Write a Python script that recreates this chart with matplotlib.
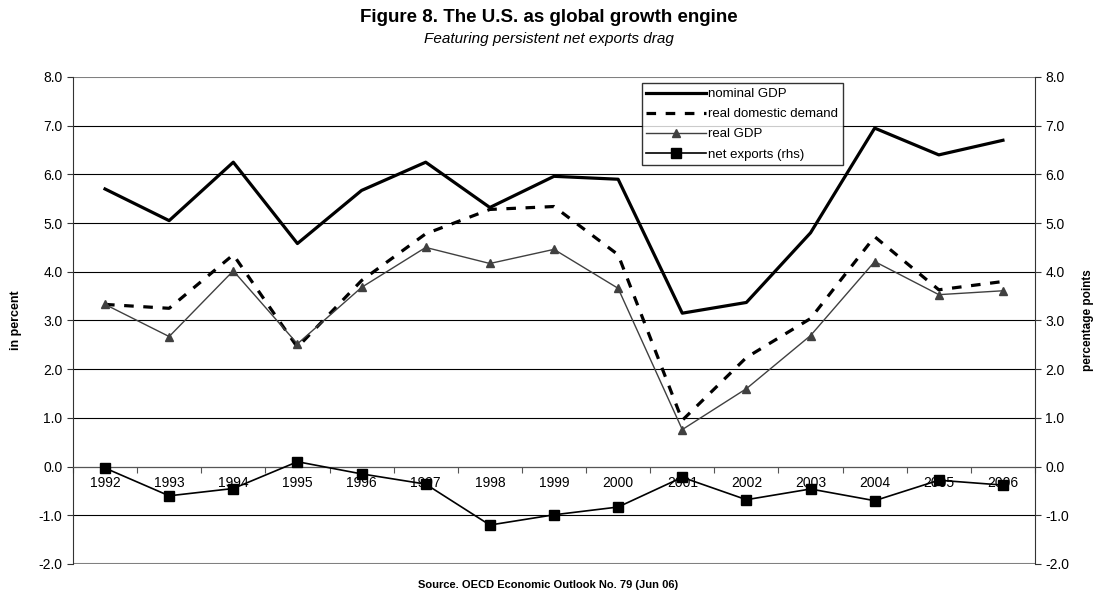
import matplotlib
matplotlib.use('Agg')
import matplotlib.pyplot as plt
import numpy as np

plt.rcParams['font.family'] = ['Liberation Sans', 'DejaVu Sans']

years = ['1992', '1993', '1994', '1995', '1996', '1997', '1998', '1999',
         '2000', '2001', '2002', '2003', '2004', '2005', '2006']
nominal_gdp = [5.70, 5.05, 6.25, 4.58, 5.67, 6.25, 5.32, 5.96, 5.90, 3.15,
               3.37, 4.80, 6.95, 6.40, 6.70]
real_dom_demand = [3.33, 3.25, 4.35, 2.45, 3.82, 4.78, 5.28, 5.34, 4.35, 0.95,
                   2.24, 3.04, 4.72, 3.63, 3.80]
real_gdp = [3.33, 2.67, 4.02, 2.52, 3.68, 4.50, 4.17, 4.46, 3.66, 0.76,
            1.60, 2.69, 4.21, 3.53, 3.61]
net_exports = [-0.03, -0.60, -0.45, 0.10, -0.15, -0.36, -1.20, -0.99, -0.83,
               -0.22, -0.68, -0.46, -0.70, -0.28, -0.38]

x = np.arange(len(years))

fig = plt.figure(figsize=(10.97, 5.92), dpi=100)
ax = fig.add_axes([0.0665, 0.0473, 0.877, 0.8227])
ax2 = ax.twinx()

# gridlines
for v in range(-1, 8):
    ax.axhline(v, color='black', lw=0.8, zorder=0)
for v in (-2, 8):
    ax.axhline(v, color='#808080', lw=1.5, zorder=0)

ax.plot(x, nominal_gdp, color='black', lw=2.3, label='nominal GDP', zorder=3)
ax.plot(x, real_dom_demand, color='black', lw=2.3, ls=(0, (3, 3)),
        label='real domestic demand', zorder=3)
ax.plot(x, real_gdp, color='#404040', lw=1.0, marker='^', ms=6,
        label='real GDP', zorder=3)
ax2.plot(x, net_exports, color='black', lw=1.2, marker='s', ms=7,
         label='net exports (rhs)', zorder=3)

for a in (ax, ax2):
    a.set_ylim(-2, 8)
    a.set_xlim(-0.5, len(years) - 0.5)
    a.set_yticks(np.arange(-2, 8.1, 1))
    a.set_yticklabels(['%.1f' % v for v in np.arange(-2, 8.1, 1)], fontsize=10)
    a.tick_params(axis='y', length=4, width=0.8, color='#333333')
    a.spines['top'].set_visible(False)

ax.spines['bottom'].set_position(('data', 0))
ax.spines['bottom'].set_color('#555555')
ax.spines['left'].set_color('#333333')
ax2.spines['right'].set_color('#333333')
ax2.spines['bottom'].set_visible(False)
ax2.spines['left'].set_visible(False)
ax.spines['right'].set_visible(False)

ax.set_xticks(x)
ax.set_xticklabels(years, fontsize=10)
ax.set_xticks(np.arange(-0.5, len(years), 1), minor=True)
ax.tick_params(axis='x', which='major', length=0, pad=7)
ax.tick_params(axis='x', which='minor', length=4, width=0.8, color='#555555')

ax.set_ylabel('in percent', fontsize=9, fontweight='bold', labelpad=12)
ax2.set_ylabel('percentage points', fontsize=8.5, fontweight='bold', labelpad=9)

h1, l1 = ax.get_legend_handles_labels()
h2, l2 = ax2.get_legend_handles_labels()
leg = ax2.legend(h1 + h2, l1 + l2, loc='upper left',
                 bbox_to_anchor=(0.591, 0.987), fontsize=9.5, frameon=True,
                 fancybox=False, edgecolor='black', handlelength=4.5,
                 borderpad=0.35, labelspacing=0.6, handletextpad=0.2,
                 borderaxespad=0)
leg.get_frame().set_linewidth(1.0)

fig.text(0.5, 0.962, 'Figure 8. The U.S. as global growth engine',
         ha='center', fontsize=13.5, fontweight='bold')
fig.text(0.5, 0.928, 'Featuring persistent net exports drag',
         ha='center', fontsize=11, style='italic')
fig.text(0.5, 0.007, 'Source. OECD Economic Outlook No. 79 (Jun 06)',
         ha='center', fontsize=8, fontweight='bold')

fig.savefig('out.png', dpi=100)
